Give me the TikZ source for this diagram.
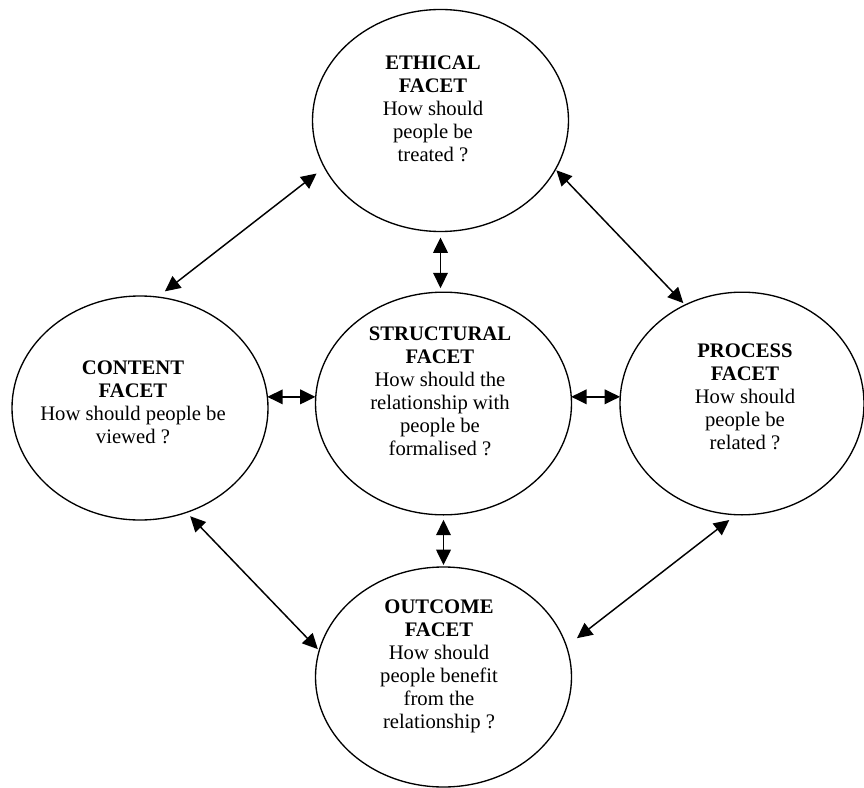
\documentclass[tikz,border=0pt]{standalone}
\usepackage{fontspec}
\setmainfont{Liberation Serif}
\usetikzlibrary{shapes.geometric,arrows.meta}
\begin{document}
\begin{tikzpicture}[x=0.75pt,y=-0.75pt,
  facet/.style={ellipse, draw, line width=1pt, inner sep=0pt, outer sep=0pt},
  facettext/.style={align=center, inner sep=0pt,
    font=\fontsize{15.5}{17.25}\selectfont},
  link/.style={{Triangle[length=11.5pt,width=11pt]}-{Triangle[length=11.5pt,width=11pt]},
    line width=1.1pt}
]
\useasboundingbox (0,0) rectangle (864,788);

% the five facets
\node[facet, minimum width=192pt, minimum height=166.5pt] (eth) at (440.5,120.5) {};
\node[facet, minimum width=192pt, minimum height=168pt]   (con) at (140,408) {};
\node[facet, minimum width=192pt, minimum height=167pt]   (str) at (443.5,403.5) {};
\node[facet, minimum width=183pt, minimum height=167pt]   (pro) at (742,403.5) {};
\node[facet, minimum width=192pt, minimum height=165pt]   (out) at (443.5,677) {};

% their texts
\node[facettext] (ethT) at (433,108.5) {\textbf{ETHICAL}\\\textbf{FACET}\\How should\\people be\\treated ?};
\node[facettext] (conT) at (133,402) {\textbf{CONTENT}\\\textbf{FACET}\\How should people be\\viewed ?};
\node[facettext] (strT) at (440,391.5) {\textbf{STRUCTURAL}\\\textbf{FACET}\\How should the\\relationship with\\people be\\formalised ?};
\node[facettext] (proT) at (745,396.5) {\textbf{PROCESS}\\\textbf{FACET}\\How should\\people be\\related ?};
\node[facettext] (outT) at (439,666.5) {\textbf{OUTCOME}\\\textbf{FACET}\\How should\\people benefit\\from the\\relationship ?};

% two-way links
\draw[link, shorten <=7.5pt, shorten >=7pt] (eth.202.6) -- (con.81.9);
\draw[link, shorten <=1pt, shorten >=2pt] (eth.337.7) -- (pro.120.3);
\draw[link, shorten <=4pt, shorten >=1.5pt] (con.294.2) -- (out.168.9);
\draw[link, shorten <=6.5pt, shorten >=10pt] (pro.267.6) -- (out.14.9);
\draw[link] (con.5.4) -- (con.5.4 -| str.west);
\draw[link] (str.3.1) -- (str.3.1 -| pro.west);
\draw[link, shorten <=4.5pt, shorten >=3pt] (eth.south) -- (eth.south |- str.north);
\draw[link, shorten <=3.75pt, shorten >=1.5pt] (str.south) -- (str.south |- out.north);
\end{tikzpicture}
\end{document}
